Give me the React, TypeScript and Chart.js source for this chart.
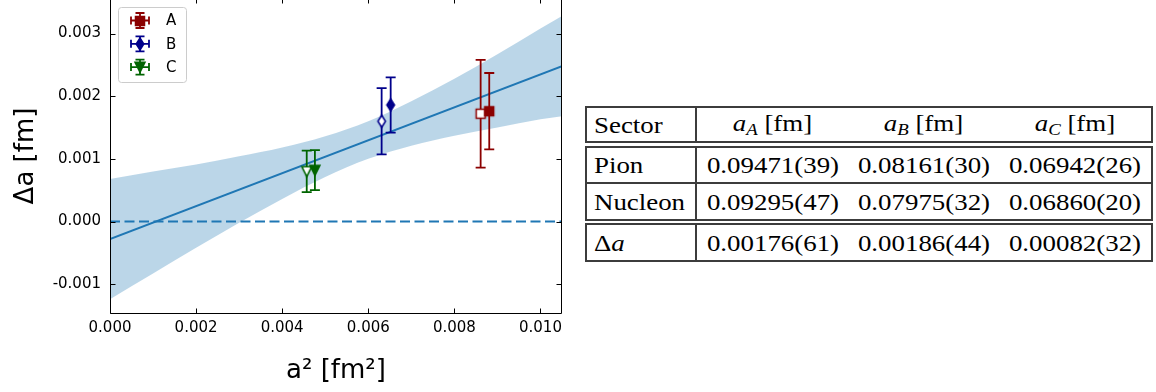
import React, { useEffect, useRef } from "react";
import { Chart, registerables } from "chart.js";

Chart.register(...registerables);

// ---------------- data ----------------
const xTicks = [0, 0.002, 0.004, 0.006, 0.008, 0.01];
const yTicks = [-0.001, 0, 0.001, 0.002, 0.003];
const X_MIN = 0;
const X_MAX = 0.0105;
const Y_MIN = -0.001476;
const Y_MAX = 0.003567;

const ensembles = ["A", "B", "C"];
const ensembleColors = ["#8b0000", "#00008b", "#006400"];
const ensembleMarkers = ["square", "thin_diamond", "triangle_down"];

// filled points (table values)
const filledX = [0.00881, 0.00652, 0.00476];
const filledY = [0.00176, 0.00186, 0.00082];
const filledErr = [0.00061, 0.00044, 0.00032];
// open points
const openX = [0.00861, 0.00631, 0.00457];
const openY = [0.00172, 0.0016, 0.0008];
const openErr = [0.00086, 0.00053, 0.00033];

// linear fit and its error band
const fitX = [0, 0.0105];
const fitY = [-0.00028, 0.00248];
const bandX = [0, 0.001, 0.002, 0.003, 0.004, 0.005, 0.006, 0.007, 0.008, 0.009, 0.01, 0.0105];
const bandUpper = [0.00068, 0.0008, 0.00091, 0.00104, 0.00118, 0.00136, 0.0016, 0.00192, 0.00228, 0.00267, 0.00308, 0.00328];
const bandLower = [-0.00124, -0.00083, -0.00042, -0.00002, 0.00036, 0.00071, 0.001, 0.00121, 0.00137, 0.0015, 0.00163, 0.00168];
const zeroX = [0, 0.0105];
const zeroY = [0, 0];

// table
const sectorHeader = "Sector";
const spacingLabels = ["A", "B", "C"];
const pionVals = ["0.09471(39)", "0.08161(30)", "0.06942(26)"];
const nucleonVals = ["0.09295(47)", "0.07975(32)", "0.06860(20)"];
const deltaVals = ["0.00176(61)", "0.00186(44)", "0.00082(32)"];

// ---------------- helpers ----------------
function makeMarker(shape: string, color: string, filled: boolean): HTMLCanvasElement {
  const c = document.createElement("canvas");
  const W = 16;
  const H = 18;
  c.width = W;
  c.height = H;
  const g = c.getContext("2d")!;
  g.translate(W / 2, H / 2);
  g.beginPath();
  if (shape === "square") {
    g.rect(-4.5, -4.5, 9, 9);
  } else if (shape === "thin_diamond") {
    g.moveTo(0, -6);
    g.lineTo(3.8, 0);
    g.lineTo(0, 6);
    g.lineTo(-3.8, 0);
    g.closePath();
  } else {
    g.moveTo(-5, -4.8);
    g.lineTo(5, -4.8);
    g.lineTo(0, 5.2);
    g.closePath();
  }
  g.fillStyle = filled ? color : "#ffffff";
  g.fill();
  g.lineWidth = 1.5;
  g.strokeStyle = color;
  g.lineJoin = "miter";
  g.stroke();
  return c;
}

const FONT = "'DejaVu Sans', sans-serif";
const FIT_INDEX = 6;

function drawErrBar(ctx: CanvasRenderingContext2D, px: number, top: number, bot: number, color: string, cap: number) {
  ctx.save();
  ctx.strokeStyle = color;
  ctx.lineWidth = 1.8;
  ctx.beginPath();
  ctx.moveTo(px, top);
  ctx.lineTo(px, bot);
  ctx.moveTo(px - cap, top);
  ctx.lineTo(px + cap, top);
  ctx.moveTo(px - cap, bot);
  ctx.lineTo(px + cap, bot);
  ctx.stroke();
  ctx.restore();
}

const errorBarPlugin = {
  id: "errorBars",
  afterDatasetDraw(chart: any, args: any) {
    if (args.index !== FIT_INDEX) return;
    const ctx = chart.ctx as CanvasRenderingContext2D;
    const xs = chart.scales.x;
    const ys = chart.scales.y;
    for (let i = 0; i < ensembles.length; i++) {
      drawErrBar(ctx, xs.getPixelForValue(openX[i]), ys.getPixelForValue(openY[i] + openErr[i]), ys.getPixelForValue(openY[i] - openErr[i]), ensembleColors[i], 5);
      drawErrBar(ctx, xs.getPixelForValue(filledX[i]), ys.getPixelForValue(filledY[i] + filledErr[i]), ys.getPixelForValue(filledY[i] - filledErr[i]), ensembleColors[i], 5);
    }
  },
};

const framePlugin = {
  id: "frameLegend",
  afterDraw(chart: any) {
    const ctx = chart.ctx as CanvasRenderingContext2D;
    const { left, right, top, bottom } = chart.chartArea;
    const xs = chart.scales.x;
    const ys = chart.scales.y;
    const L = Math.round(left) + 0.5;
    const R = Math.round(right) - 0.5;
    const T = Math.round(top) + 0.5;
    const B = Math.round(bottom) - 0.5;
    ctx.save();
    ctx.strokeStyle = "#000";
    ctx.lineWidth = 1;
    ctx.beginPath();
    ctx.moveTo(L, T);
    ctx.lineTo(R, T);
    ctx.lineTo(R, B);
    ctx.lineTo(L, B);
    ctx.closePath();
    ctx.stroke();
    // inward ticks
    ctx.beginPath();
    for (const v of xTicks) {
      const px = Math.round(xs.getPixelForValue(v)) + 0.5;
      ctx.moveTo(px, B);
      ctx.lineTo(px, B - 5);
      ctx.moveTo(px, T);
      ctx.lineTo(px, T + 5);
    }
    for (const v of yTicks) {
      const py = Math.round(ys.getPixelForValue(v)) + 0.5;
      ctx.moveTo(L, py);
      ctx.lineTo(L + 5, py);
      ctx.moveTo(R, py);
      ctx.lineTo(R - 5, py);
    }
    ctx.stroke();

    // legend
    const lx = left + 8.5;
    const ly = top + 9.5;
    const lw = 68;
    const lh = 75;
    const r = 3;
    ctx.beginPath();
    ctx.moveTo(lx + r, ly);
    ctx.lineTo(lx + lw - r, ly);
    ctx.arcTo(lx + lw, ly, lx + lw, ly + r, r);
    ctx.lineTo(lx + lw, ly + lh - r);
    ctx.arcTo(lx + lw, ly + lh, lx + lw - r, ly + lh, r);
    ctx.lineTo(lx + r, ly + lh);
    ctx.arcTo(lx, ly + lh, lx, ly + lh - r, r);
    ctx.lineTo(lx, ly + r);
    ctx.arcTo(lx, ly, lx + r, ly, r);
    ctx.closePath();
    ctx.fillStyle = "rgba(255,255,255,0.8)";
    ctx.fill();
    ctx.strokeStyle = "#cccccc";
    ctx.stroke();

    for (let i = 0; i < ensembles.length; i++) {
      const cx = left + 30;
      const cy = top + 22.5 + i * 23.3;
      const col = ensembleColors[i];
      ctx.strokeStyle = col;
      ctx.lineWidth = 1.8;
      ctx.beginPath();
      ctx.moveTo(cx - 9, cy);
      ctx.lineTo(cx + 9, cy);
      ctx.moveTo(cx - 9, cy - 4);
      ctx.lineTo(cx - 9, cy + 4);
      ctx.moveTo(cx + 9, cy - 4);
      ctx.lineTo(cx + 9, cy + 4);
      ctx.moveTo(cx, cy - 7.5);
      ctx.lineTo(cx, cy + 7.5);
      ctx.moveTo(cx - 4.5, cy - 7.5);
      ctx.lineTo(cx + 4.5, cy - 7.5);
      ctx.moveTo(cx - 4.5, cy + 7.5);
      ctx.lineTo(cx + 4.5, cy + 7.5);
      ctx.stroke();
      const img = makeMarker(ensembleMarkers[i], col, true);
      ctx.drawImage(img, Math.round(cx - img.width / 2), Math.round(cy - img.height / 2));
      ctx.fillStyle = "#000";
      ctx.font = `15px ${FONT}`;
      ctx.textBaseline = "middle";
      ctx.textAlign = "left";
      ctx.fillText(ensembles[i], left + 56, cy + 1);
    }
    ctx.restore();
  },
};

function ChartPanel() {
  const ref = useRef<HTMLCanvasElement | null>(null);
  useEffect(() => {
    if (!ref.current) return;
    const pointSets: any[] = [];
    for (let i = 0; i < ensembles.length; i++) {
      pointSets.push({
        label: ensembles[i],
        data: [{ x: filledX[i], y: filledY[i] }],
        showLine: false,
        pointStyle: makeMarker(ensembleMarkers[i], ensembleColors[i], true),
        pointRadius: 5,
      });
    }
    for (let i = 0; i < ensembles.length; i++) {
      pointSets.push({
        label: ensembles[i] + " open",
        data: [{ x: openX[i], y: openY[i] }],
        showLine: false,
        pointStyle: makeMarker(ensembleMarkers[i], ensembleColors[i], false),
        pointRadius: 5,
      });
    }
    const datasets: any[] = [
      ...pointSets,
      {
        label: "fit",
        data: fitX.map((x, i) => ({ x, y: fitY[i] })),
        borderColor: "#1f77b4",
        borderWidth: 2,
        pointRadius: 0,
        fill: false,
      },
      {
        label: "zero",
        data: zeroX.map((x, i) => ({ x, y: zeroY[i] })),
        borderColor: "#1f77b4",
        borderWidth: 2,
        borderDash: [10, 4.5],
        pointRadius: 0,
        fill: false,
      },
      {
        label: "band lower",
        data: bandX.map((x, i) => ({ x, y: bandLower[i] })),
        borderWidth: 0,
        borderColor: "rgba(0,0,0,0)",
        pointRadius: 0,
        fill: false,
        cubicInterpolationMode: "monotone",
      },
      {
        label: "band upper",
        data: bandX.map((x, i) => ({ x, y: bandUpper[i] })),
        borderWidth: 0,
        borderColor: "rgba(0,0,0,0)",
        backgroundColor: "rgba(31,119,180,0.3)",
        pointRadius: 0,
        fill: "-1",
        cubicInterpolationMode: "monotone",
      },
    ];

    const chart = new Chart(ref.current, {
      type: "line",
      data: { datasets },
      options: {
        animation: false,
        responsive: false,
        devicePixelRatio: 1,
        layout: { autoPadding: false, padding: { left: 0, right: 18, top: 0, bottom: 0 } },
        plugins: { legend: { display: false }, tooltip: { enabled: false } },
        scales: {
          x: {
            type: "linear",
            min: X_MIN,
            max: X_MAX,
            afterBuildTicks: (s: any) => {
              s.ticks = xTicks.map((v) => ({ value: v }));
            },
            afterFit: (s: any) => {
              s.height = 78;
              s.paddingLeft = 0;
              s.paddingRight = 0;
            },
            grid: { display: false, drawTicks: false },
            border: { display: false },
            ticks: {
              color: "#000",
              font: { family: FONT, size: 15 },
              padding: 5,
              maxRotation: 0,
              autoSkip: false,
              callback: (v: any) => Number(v).toFixed(3),
            },
            title: {
              display: true,
              text: "a² [fm²]",
              color: "#000",
              font: { family: FONT, size: 26 },
              padding: { top: 0, bottom: 5 },
            },
          },
          y: {
            type: "linear",
            min: Y_MIN,
            max: Y_MAX,
            afterBuildTicks: (s: any) => {
              s.ticks = yTicks.map((v) => ({ value: v }));
            },
            afterFit: (s: any) => {
              s.width = 110;
              s.paddingTop = 0;
              s.paddingBottom = 0;
            },
            grid: { display: false, drawTicks: false },
            border: { display: false },
            ticks: {
              color: "#000",
              font: { family: FONT, size: 15 },
              padding: 9,
              autoSkip: false,
              callback: (v: any) => Number(v).toFixed(3),
            },
            title: {
              display: true,
              text: "Δa [fm]",
              color: "#000",
              font: { family: FONT, size: 26 },
              padding: { top: 11, bottom: 0 },
            },
          },
        },
      } as any,
      plugins: [errorBarPlugin, framePlugin],
    });
    return () => chart.destroy();
  }, []);
  return (
    <canvas
      ref={ref}
      width={580}
      height={394}
      style={{ position: "absolute", left: 0, top: -2, width: 580, height: 394 }}
    />
  );
}

const BORDER = "2px solid #3c3c3c";
const TFONT = "'Liberation Serif', 'Times New Roman', serif";
const STRETCH = "scaleX(1.12)";

function T({ children, origin }: { children: React.ReactNode; origin?: string }) {
  return (
    <span style={{ display: "inline-block", transform: STRETCH, transformOrigin: origin || "center", whiteSpace: "nowrap" }}>
      {children}
    </span>
  );
}

function Row({ first, cells, height, bottomBorder }: { first: React.ReactNode; cells: React.ReactNode[]; height: number; bottomBorder?: boolean }) {
  return (
    <div style={{ display: "flex", height, borderBottom: bottomBorder ? BORDER : "none", boxSizing: "border-box" }}>
      <div
        style={{
          width: 110,
          borderRight: BORDER,
          boxSizing: "border-box",
          display: "flex",
          alignItems: "center",
          paddingLeft: 7,
        }}
      >
        <T origin="left">{first}</T>
      </div>
      {cells.map((c, i) => (
        <div key={i} style={{ width: 151, display: "flex", alignItems: "center", justifyContent: "center" }}>
          <T>{c}</T>
        </div>
      ))}
    </div>
  );
}

function Box({ top, height, children }: { top: number; height: number; children: React.ReactNode }) {
  return (
    <div
      style={{
        position: "absolute",
        left: 585,
        top,
        width: 568,
        height,
        border: BORDER,
        boxSizing: "border-box",
        display: "flex",
        flexDirection: "column",
      }}
    >
      {children}
    </div>
  );
}

function Table() {
  const head = spacingLabels.map((s) => (
    <span>
      <i>a</i>
      <sub style={{ fontSize: "0.7em", fontStyle: "italic", verticalAlign: "-0.25em" }}>{s}</sub> [fm]
    </span>
  ));
  return (
    <div style={{ fontFamily: TFONT, fontSize: 24, lineHeight: 1, color: "#000" }}>
      <Box top={106} height={37}>
        <Row first={sectorHeader} cells={head} height={33} />
      </Box>
      <Box top={146} height={75}>
        <Row first="Pion" cells={pionVals} height={36} bottomBorder />
        <Row first="Nucleon" cells={nucleonVals} height={35} />
      </Box>
      <Box top={223} height={39}>
        <Row
          first={
            <span>
              Δ<i>a</i>
            </span>
          }
          cells={deltaVals}
          height={35}
        />
      </Box>
    </div>
  );
}

export default function App() {
  return (
    <div style={{ position: "absolute", left: 0, top: 0, width: 1156, height: 392, overflow: "hidden", background: "#fff" }}>
      <ChartPanel />
      <Table />
    </div>
  );
}
